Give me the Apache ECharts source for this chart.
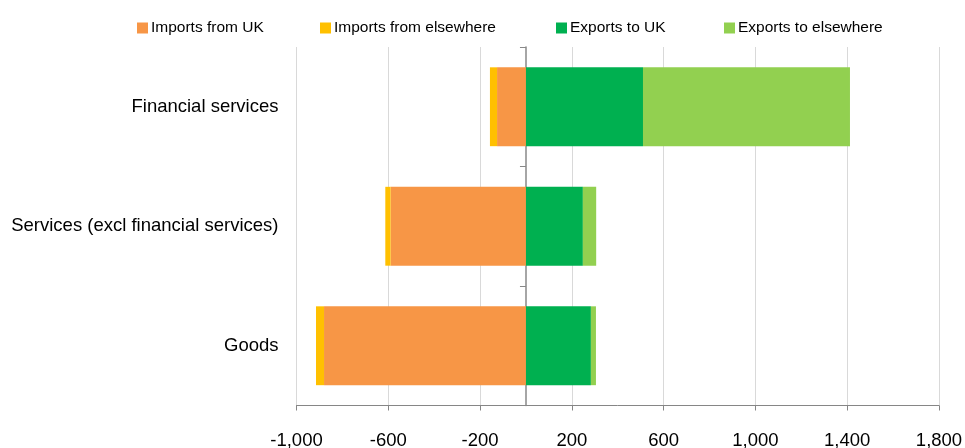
<!DOCTYPE html>
<html>
<head>
<meta charset="utf-8">
<script src="https://cdn.jsdelivr.net/npm/echarts@6/dist/echarts.min.js"></script>
<style>html,body{margin:0;padding:0;background:#fff;}#c{width:965px;height:448px;}</style>
</head>
<body>
<div id="c"></div>
<script>
const categories = ['Goods', 'Services (excl financial services)', 'Financial services'];
const importsFromUK = [-880, -590, -126];
const importsFromElsewhere = [-35, -23, -31];
const exportsToUK = [283, 248, 510];
const exportsToElsewhere = [22, 58, 902];
const seriesNames = ['Imports from UK', 'Imports from elsewhere', 'Exports to UK', 'Exports to elsewhere'];
const colors = ['#F79646', '#FFC000', '#00B050', '#92D050'];
const FONT = '"Liberation Sans", Arial, sans-serif';

const legendLefts = [132, 315, 551, 719];
const chart = echarts.init(document.getElementById('c'), null, {renderer: 'canvas'});
const allData = [importsFromUK, importsFromElsewhere, exportsToUK, exportsToElsewhere];
chart.setOption({
  animation: false,
  color: colors,
  legend: seriesNames.map((n, i) => ({
    top: 15, left: legendLefts[i],
    itemWidth: 11, itemHeight: 11,
    icon: 'rect',
    textStyle: {fontFamily: FONT, fontSize: 15.5, color: '#000', padding: [0, 0, 0, -2]},
    data: [n]
  })),
  grid: {left: 296.5, right: 26, top: 47, bottom: 42.5, containLabel: false, outerBoundsMode: 'none'},
  xAxis: {
    type: 'value', min: -1000, max: 1800, interval: 400,
    axisLine: {show: true, lineStyle: {color: '#868686', width: 1}},
    axisTick: {show: true, length: 5, lineStyle: {color: '#868686'}},
    splitLine: {show: true, lineStyle: {color: '#d9d9d9', width: 1}},
    axisLabel: {
      fontFamily: FONT, fontSize: 18.5, color: '#000', margin: 26,
      formatter: v => v.toLocaleString('en-US')
    }
  },
  yAxis: [{
    type: 'category', data: categories, position: 'left',
    axisLine: {show: false, onZero: false},
    axisTick: {show: false},
    splitLine: {show: false},
    axisLabel: {fontFamily: FONT, fontSize: 18.5, color: '#000', margin: 18}
  }, {
    type: 'category', data: categories, position: 'left',
    axisLine: {show: true, onZero: true, lineStyle: {color: '#888', width: 1.5}},
    axisTick: {show: true, length: 6, lineStyle: {color: '#888'}},
    axisLabel: {show: false},
    splitLine: {show: false}
  }],
  series: seriesNames.map((n, i) => ({
    name: n, type: 'bar', stack: 'total', yAxisIndex: 0,
    barCategoryGap: '34%',
    data: allData[i],
    itemStyle: {color: colors[i]}
  }))
});
</script>
</body>
</html>
